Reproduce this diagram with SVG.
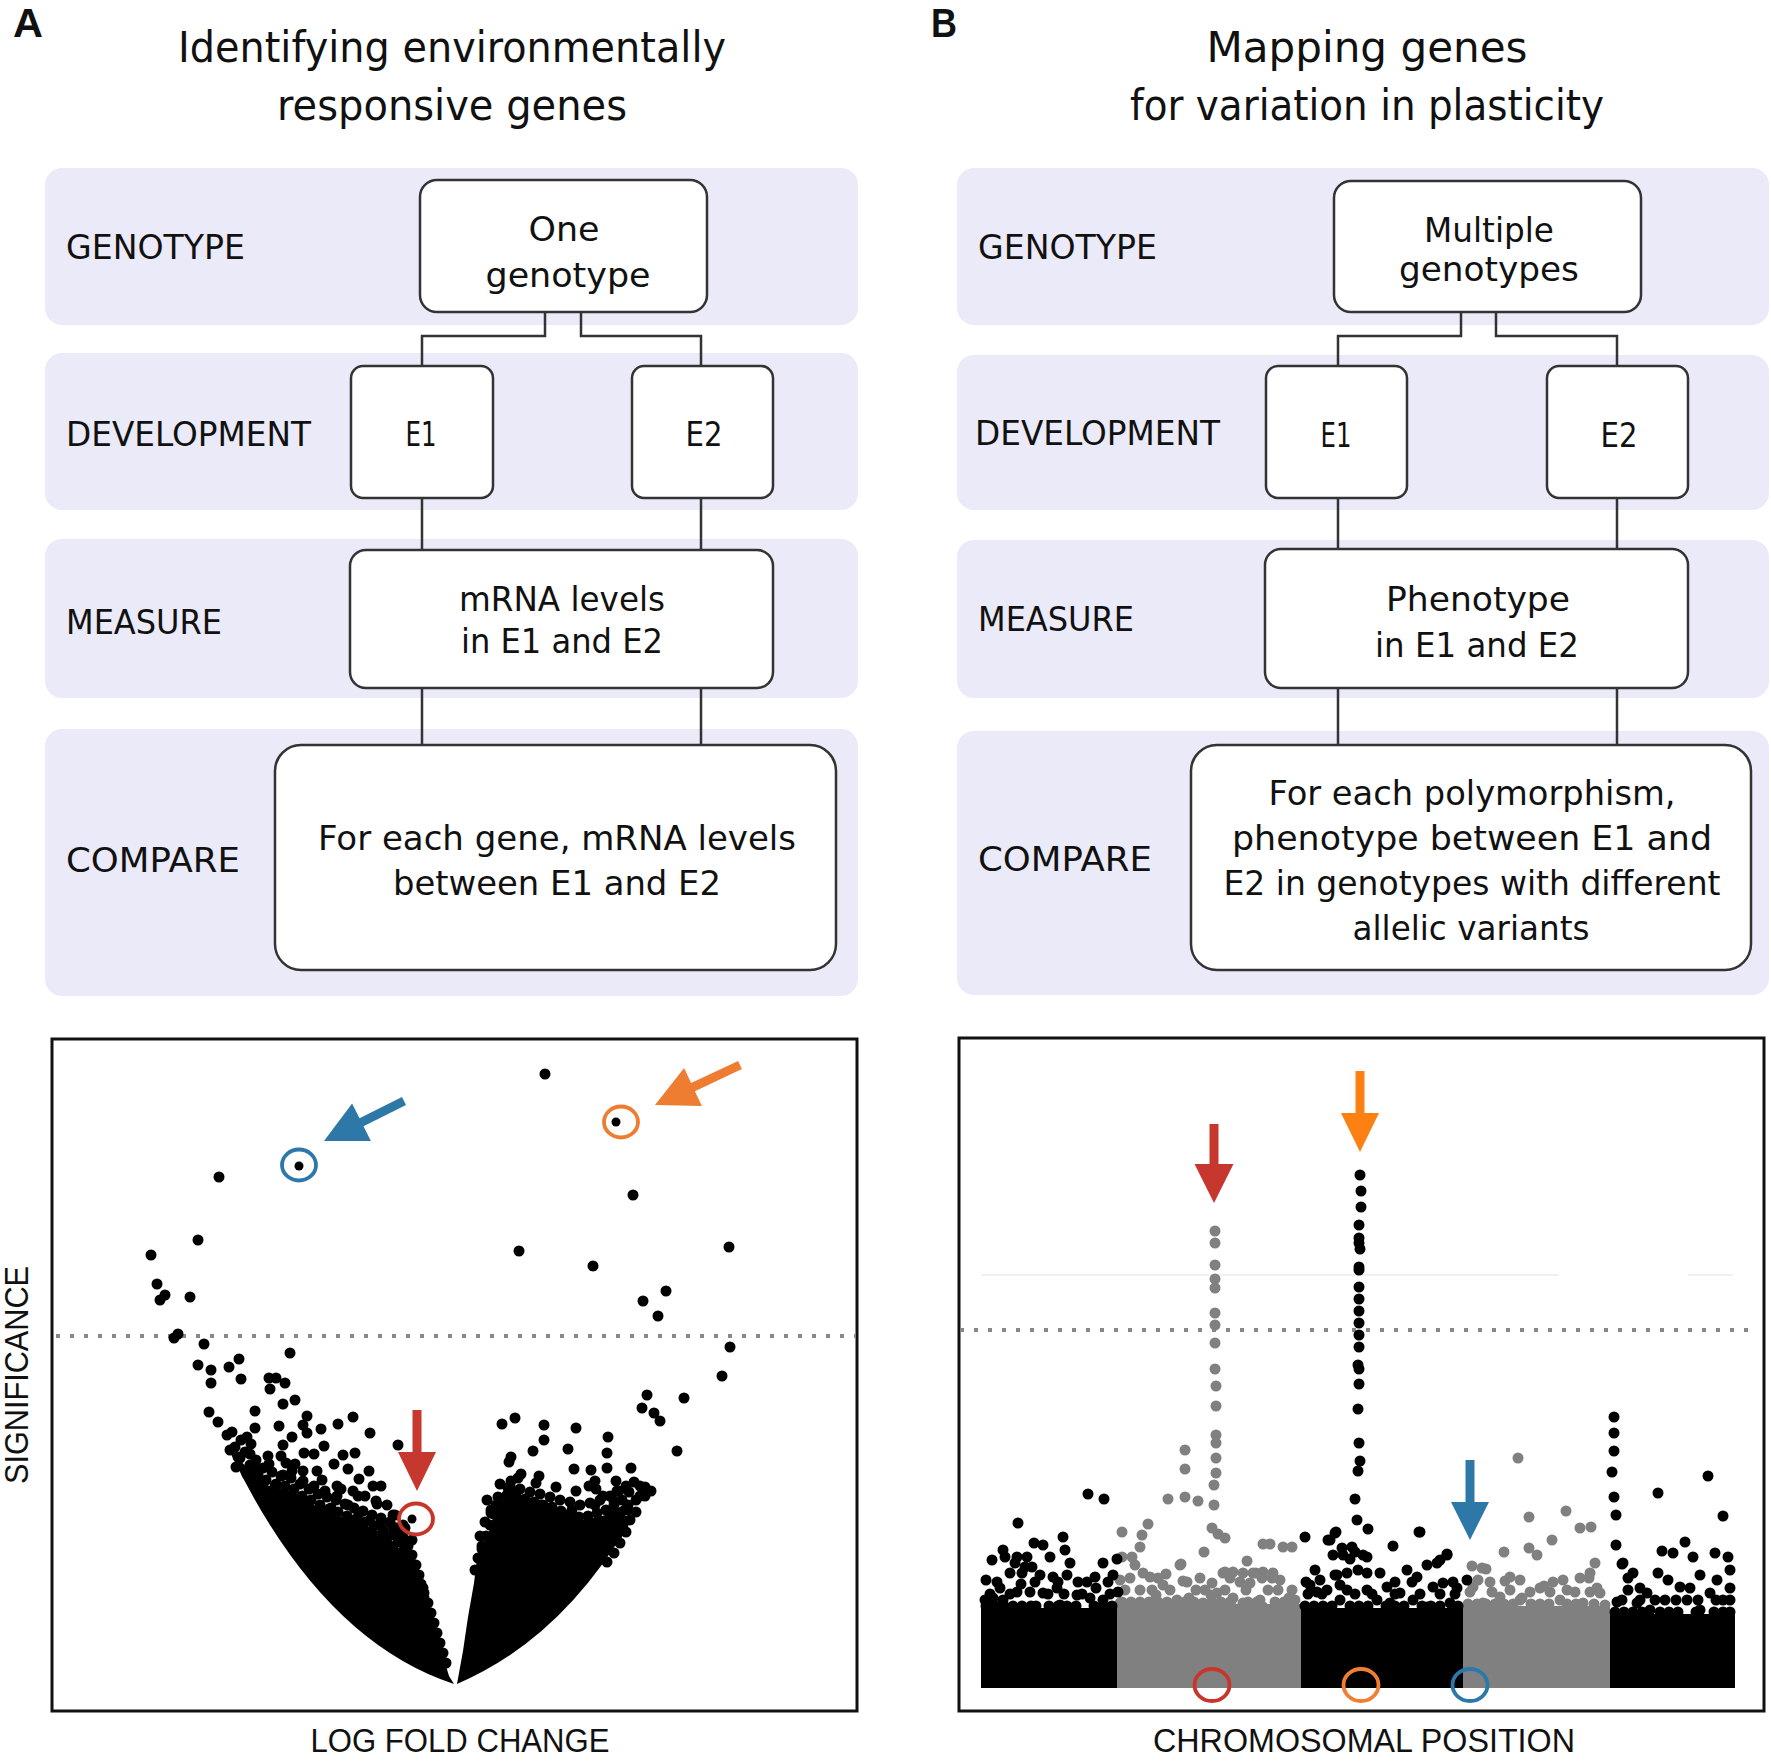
<svg xmlns="http://www.w3.org/2000/svg" width="1771" height="1762" viewBox="0 0 1771 1762">
<style>
.band{fill:#eaeaf8}
.box{fill:#fff;stroke:#333;stroke-width:2.5}
.conn path{fill:none;stroke:#333;stroke-width:2.5}
.fc{font-family:"DejaVu Sans","Liberation Sans",sans-serif;font-size:33px;fill:#111}
.ttl{font-family:"DejaVu Sans","Liberation Sans",sans-serif;font-size:42px;fill:#111;text-anchor:middle}
.mid{text-anchor:middle}
.pl{font-family:"Liberation Sans",Arial,sans-serif;font-size:34px;fill:#111}
.letter{font-family:"Liberation Sans",Arial,sans-serif;font-size:40px;font-weight:bold;fill:#111}
.frame{fill:none;stroke:#111;stroke-width:3}
.dotted{stroke:#888;stroke-width:4;stroke-dasharray:4 10}
.k circle{fill:#000}
.gr circle{fill:#808080}
.ring{fill:none;stroke-width:3.8}
</style>

<!-- Panel letters and titles -->
<text class="letter" x="13" y="37" textLength="30" lengthAdjust="spacingAndGlyphs">A</text>
<text class="letter" x="931" y="37" textLength="26" lengthAdjust="spacingAndGlyphs">B</text>
<text class="ttl" x="452" y="62" textLength="548" lengthAdjust="spacingAndGlyphs">Identifying environmentally</text>
<text class="ttl" x="452" y="120" textLength="350" lengthAdjust="spacingAndGlyphs">responsive genes</text>
<text class="ttl" x="1367" y="62" textLength="321" lengthAdjust="spacingAndGlyphs">Mapping genes</text>
<text class="ttl" x="1367" y="120" textLength="474" lengthAdjust="spacingAndGlyphs">for variation in plasticity</text>

<!-- Bands -->
<g id="bandsA">
<rect class="band" x="45" y="168" width="813" height="157" rx="17"/>
<rect class="band" x="45" y="353" width="813" height="157" rx="17"/>
<rect class="band" x="45" y="539" width="813" height="159" rx="17"/>
<rect class="band" x="45" y="729" width="813" height="267" rx="17"/>
</g>
<g id="bandsB">
<rect class="band" x="957" y="168" width="812" height="157" rx="17"/>
<rect class="band" x="957" y="355" width="812" height="155" rx="17"/>
<rect class="band" x="957" y="540" width="812" height="158" rx="17"/>
<rect class="band" x="957" y="731" width="812" height="264" rx="17"/>
</g>

<!-- Row labels -->
<g id="labelsA" class="fc">
<text x="66" y="259" textLength="179" lengthAdjust="spacingAndGlyphs">GENOTYPE</text>
<text x="66" y="446" textLength="245" lengthAdjust="spacingAndGlyphs">DEVELOPMENT</text>
<text x="66" y="634" textLength="156" lengthAdjust="spacingAndGlyphs">MEASURE</text>
<text x="66" y="872" textLength="174" lengthAdjust="spacingAndGlyphs">COMPARE</text>
</g>
<g id="labelsB" class="fc">
<text x="978" y="259" textLength="179" lengthAdjust="spacingAndGlyphs">GENOTYPE</text>
<text x="975" y="445" textLength="245" lengthAdjust="spacingAndGlyphs">DEVELOPMENT</text>
<text x="978" y="631" textLength="156" lengthAdjust="spacingAndGlyphs">MEASURE</text>
<text x="978" y="871" textLength="174" lengthAdjust="spacingAndGlyphs">COMPARE</text>
</g>

<!-- Connectors -->
<g id="connectors" class="conn">
<path d="M545,312 V336 H422 V366"/>
<path d="M581,312 V336 H701 V366"/>
<path d="M422,498 V550"/>
<path d="M701,498 V550"/>
<path d="M422,688 V745"/>
<path d="M701,688 V745"/>
<path d="M1461,312 V336 H1338 V366"/>
<path d="M1496,312 V336 H1617 V366"/>
<path d="M1338,498 V549"/>
<path d="M1617,498 V549"/>
<path d="M1338,688 V745"/>
<path d="M1617,688 V745"/>
</g>

<!-- Nodes panel A -->
<g id="nodeA-genotype">
<rect class="box" x="420" y="180" width="287" height="132" rx="17"/>
<text class="fc mid" x="564" y="241" textLength="71" lengthAdjust="spacingAndGlyphs">One</text>
<text class="fc mid" x="568" y="287" textLength="165" lengthAdjust="spacingAndGlyphs">genotype</text>
</g>
<g id="nodeA-E1">
<rect class="box" x="351" y="366" width="142" height="132" rx="12"/>
<text class="fc mid" x="421" y="446" textLength="31" lengthAdjust="spacingAndGlyphs">E1</text>
</g>
<g id="nodeA-E2">
<rect class="box" x="632" y="366" width="141" height="132" rx="12"/>
<text class="fc mid" x="704" y="446" textLength="37" lengthAdjust="spacingAndGlyphs">E2</text>
</g>
<g id="nodeA-measure">
<rect class="box" x="350" y="550" width="423" height="138" rx="16"/>
<text class="fc mid" x="562" y="611" textLength="206" lengthAdjust="spacingAndGlyphs">mRNA levels</text>
<text class="fc mid" x="562" y="653" textLength="202" lengthAdjust="spacingAndGlyphs">in E1 and E2</text>
</g>
<g id="nodeA-compare">
<rect class="box" x="275" y="745" width="561" height="225" rx="26"/>
<text class="fc mid" x="557" y="850" textLength="478" lengthAdjust="spacingAndGlyphs">For each gene, mRNA levels</text>
<text class="fc mid" x="557" y="895" textLength="328" lengthAdjust="spacingAndGlyphs">between E1 and E2</text>
</g>

<!-- Nodes panel B -->
<g id="nodeB-genotype">
<rect class="box" x="1334" y="181" width="307" height="131" rx="17"/>
<text class="fc mid" x="1489" y="242" textLength="130" lengthAdjust="spacingAndGlyphs">Multiple</text>
<text class="fc mid" x="1489" y="281" textLength="180" lengthAdjust="spacingAndGlyphs">genotypes</text>
</g>
<g id="nodeB-E1">
<rect class="box" x="1266" y="366" width="141" height="132" rx="12"/>
<text class="fc mid" x="1336" y="447" textLength="31" lengthAdjust="spacingAndGlyphs">E1</text>
</g>
<g id="nodeB-E2">
<rect class="box" x="1547" y="366" width="141" height="132" rx="12"/>
<text class="fc mid" x="1619" y="447" textLength="37" lengthAdjust="spacingAndGlyphs">E2</text>
</g>
<g id="nodeB-measure">
<rect class="box" x="1265" y="549" width="423" height="139" rx="16"/>
<text class="fc mid" x="1478" y="611" textLength="184" lengthAdjust="spacingAndGlyphs">Phenotype</text>
<text class="fc mid" x="1477" y="657" textLength="204" lengthAdjust="spacingAndGlyphs">in E1 and E2</text>
</g>
<g id="nodeB-compare">
<rect class="box" x="1191" y="745" width="560" height="225" rx="26"/>
<text class="fc mid" x="1472" y="805" textLength="407" lengthAdjust="spacingAndGlyphs">For each polymorphism,</text>
<text class="fc mid" x="1472" y="850" textLength="480" lengthAdjust="spacingAndGlyphs">phenotype between E1 and</text>
<text class="fc mid" x="1472" y="895" textLength="497" lengthAdjust="spacingAndGlyphs">E2 in genotypes with different</text>
<text class="fc mid" x="1471" y="940" textLength="237" lengthAdjust="spacingAndGlyphs">allelic variants</text>
</g>

<!-- ===== Volcano plot (A) ===== -->
<g id="volcano">
<rect class="frame" x="52" y="1039" width="805" height="672"/>
<line class="dotted" x1="56" y1="1336" x2="855" y2="1336"/>
<path fill="#000" d="M454,1684 Q320,1640 230,1452 L247,1467 L269,1486 L292,1491 L314,1505 L337,1515 L365,1525 L387,1535 L404,1554 L415,1573 L426,1598 L435,1627 L443,1656 L449,1676 Z"/>
<path fill="#000" d="M457,1684 L463,1651 L468,1617 L474,1583 L477,1559 L488,1535 L494,1515 L505,1496 L527,1501 L555,1510 L583,1520 L606,1515 L623,1505 L628,1525 Q560,1640 457,1684 Z"/>
<g class="k">
<circle cx="545" cy="1074" r="5.5"/><circle cx="616" cy="1122" r="4.5"/><circle cx="299" cy="1166" r="4.5"/><circle cx="219" cy="1177" r="5.5"/><circle cx="633" cy="1195" r="5.5"/><circle cx="198" cy="1240" r="5.5"/><circle cx="151" cy="1255" r="5.5"/><circle cx="519" cy="1251" r="5.5"/><circle cx="593" cy="1266" r="5.5"/><circle cx="729" cy="1247" r="5.5"/><circle cx="157" cy="1284" r="5.5"/><circle cx="165" cy="1295" r="5.5"/><circle cx="160" cy="1300" r="5.5"/><circle cx="190" cy="1297" r="5.5"/><circle cx="666" cy="1291" r="5.5"/><circle cx="643" cy="1301" r="5.5"/><circle cx="658" cy="1316" r="5.5"/><circle cx="178" cy="1334" r="5.5"/><circle cx="174" cy="1338" r="5.5"/><circle cx="204" cy="1344" r="5.5"/><circle cx="290" cy="1353" r="5.5"/><circle cx="730" cy="1347" r="5.5"/><circle cx="198" cy="1365" r="5.5"/><circle cx="211" cy="1370" r="5.5"/><circle cx="239" cy="1359" r="5.5"/><circle cx="229" cy="1367" r="5.5"/><circle cx="211" cy="1383" r="5.5"/><circle cx="241" cy="1379" r="5.5"/><circle cx="269" cy="1378" r="5.5"/><circle cx="276" cy="1378" r="5.5"/><circle cx="270" cy="1389" r="5.5"/><circle cx="285" cy="1383" r="5.5"/><circle cx="295" cy="1400" r="5.5"/><circle cx="283" cy="1404" r="5.5"/><circle cx="722" cy="1376" r="5.5"/><circle cx="647" cy="1395" r="5.5"/><circle cx="684" cy="1398" r="5.5"/><circle cx="642" cy="1408" r="5.5"/><circle cx="654" cy="1413" r="5.5"/><circle cx="660" cy="1421" r="5.5"/><circle cx="677" cy="1451" r="5.5"/><circle cx="209" cy="1412" r="5.5"/><circle cx="218" cy="1422" r="5.5"/><circle cx="255" cy="1411" r="5.5"/><circle cx="307" cy="1416" r="5.5"/><circle cx="338" cy="1424" r="5.5"/><circle cx="353" cy="1417" r="5.5"/><circle cx="279" cy="1426" r="5.5"/><circle cx="303" cy="1425" r="5.5"/><circle cx="321" cy="1429" r="5.5"/><circle cx="307" cy="1433" r="5.5"/><circle cx="502" cy="1424" r="5.5"/><circle cx="515" cy="1418" r="5.5"/><circle cx="544" cy="1425" r="5.5"/><circle cx="576" cy="1428" r="5.5"/><circle cx="608" cy="1437" r="5.5"/><circle cx="544" cy="1440" r="5.5"/><circle cx="398" cy="1445" r="5.5"/><circle cx="370" cy="1433" r="5.5"/><circle cx="324" cy="1446" r="5.5"/><circle cx="304" cy="1453" r="5.5"/><circle cx="343" cy="1455" r="5.5"/><circle cx="355" cy="1453" r="5.5"/><circle cx="281" cy="1456" r="5.5"/><circle cx="533" cy="1451" r="5.5"/><circle cx="568" cy="1449" r="5.5"/><circle cx="607" cy="1453" r="5.5"/><circle cx="511" cy="1457" r="5.5"/><circle cx="509" cy="1462" r="5.5"/><circle cx="348" cy="1469" r="5.5"/><circle cx="369" cy="1471" r="5.5"/><circle cx="574" cy="1469" r="5.5"/><circle cx="591" cy="1470" r="5.5"/><circle cx="607" cy="1468" r="5.5"/><circle cx="631" cy="1468" r="5.5"/><circle cx="521" cy="1474" r="5.5"/><circle cx="539" cy="1476" r="5.5"/><circle cx="412" cy="1519" r="4.5"/>
<circle cx="230" cy="1450" r="5.5"/><circle cx="238" cy="1457" r="5.5"/><circle cx="250" cy="1454" r="5.5"/><circle cx="236" cy="1467" r="5.5"/><circle cx="247" cy="1474" r="5.5"/><circle cx="255" cy="1469" r="5.5"/><circle cx="264" cy="1481" r="5.5"/><circle cx="275" cy="1486" r="5.5"/><circle cx="258" cy="1491" r="5.5"/><circle cx="281" cy="1476" r="5.5"/><circle cx="292" cy="1471" r="5.5"/><circle cx="303" cy="1481" r="5.5"/><circle cx="314" cy="1486" r="5.5"/><circle cx="325" cy="1491" r="5.5"/><circle cx="337" cy="1496" r="5.5"/><circle cx="306" cy="1501" r="5.5"/><circle cx="331" cy="1508" r="5.5"/><circle cx="348" cy="1505" r="5.5"/><circle cx="359" cy="1513" r="5.5"/><circle cx="370" cy="1520" r="5.5"/><circle cx="381" cy="1522" r="5.5"/><circle cx="393" cy="1527" r="5.5"/><circle cx="398" cy="1535" r="5.5"/><circle cx="365" cy="1496" r="5.5"/><circle cx="337" cy="1486" r="5.5"/><circle cx="353" cy="1491" r="5.5"/><circle cx="295" cy="1464" r="5.5"/><circle cx="317" cy="1471" r="5.5"/><circle cx="269" cy="1464" r="5.5"/><circle cx="381" cy="1486" r="5.5"/><circle cx="376" cy="1501" r="5.5"/><circle cx="393" cy="1515" r="5.5"/><circle cx="404" cy="1544" r="5.5"/><circle cx="410" cy="1559" r="5.5"/><circle cx="418" cy="1578" r="5.5"/><circle cx="424" cy="1598" r="5.5"/><circle cx="415" cy="1588" r="5.5"/><circle cx="247" cy="1437" r="5.5"/><circle cx="255" cy="1428" r="5.5"/><circle cx="241" cy="1440" r="5.5"/><circle cx="227" cy="1435" r="5.5"/><circle cx="292" cy="1437" r="5.5"/><circle cx="283" cy="1445" r="5.5"/><circle cx="314" cy="1454" r="5.5"/><circle cx="334" cy="1464" r="5.5"/><circle cx="359" cy="1479" r="5.5"/><circle cx="373" cy="1486" r="5.5"/><circle cx="387" cy="1505" r="5.5"/><circle cx="403" cy="1525" r="5.5"/><circle cx="426" cy="1612" r="5.5"/>
<circle cx="240" cy="1458" r="5.5"/><circle cx="250" cy="1465" r="5.5"/><circle cx="258" cy="1474" r="5.5"/><circle cx="266" cy="1480" r="5.5"/><circle cx="276" cy="1484" r="5.5"/><circle cx="285" cy="1486" r="5.5"/><circle cx="294" cy="1489" r="5.5"/><circle cx="302" cy="1496" r="5.5"/><circle cx="311" cy="1500" r="5.5"/><circle cx="320" cy="1505" r="5.5"/><circle cx="329" cy="1509" r="5.5"/><circle cx="338" cy="1512" r="5.5"/><circle cx="347" cy="1516" r="5.5"/><circle cx="356" cy="1519" r="5.5"/><circle cx="365" cy="1522" r="5.5"/><circle cx="374" cy="1526" r="5.5"/><circle cx="383" cy="1530" r="5.5"/><circle cx="391" cy="1535" r="5.5"/><circle cx="398" cy="1542" r="5.5"/><circle cx="404" cy="1550" r="5.5"/><circle cx="409" cy="1558" r="5.5"/><circle cx="413" cy="1566" r="5.5"/><circle cx="417" cy="1575" r="5.5"/><circle cx="421" cy="1584" r="5.5"/><circle cx="424" cy="1593" r="5.5"/><circle cx="428" cy="1603" r="5.5"/><circle cx="431" cy="1613" r="5.5"/><circle cx="434" cy="1623" r="5.5"/><circle cx="437" cy="1633" r="5.5"/><circle cx="440" cy="1643" r="5.5"/><circle cx="443" cy="1653" r="5.5"/><circle cx="446" cy="1663" r="5.5"/>
<circle cx="235" cy="1447" r="5.5"/><circle cx="245" cy="1452" r="5.5"/><circle cx="256" cy="1460" r="5.5"/><circle cx="263" cy="1468" r="5.5"/><circle cx="272" cy="1472" r="5.5"/><circle cx="283" cy="1475" r="5.5"/><circle cx="291" cy="1478" r="5.5"/><circle cx="300" cy="1484" r="5.5"/><circle cx="309" cy="1489" r="5.5"/><circle cx="318" cy="1494" r="5.5"/><circle cx="327" cy="1497" r="5.5"/><circle cx="336" cy="1500" r="5.5"/><circle cx="345" cy="1504" r="5.5"/><circle cx="354" cy="1508" r="5.5"/><circle cx="363" cy="1511" r="5.5"/><circle cx="372" cy="1515" r="5.5"/><circle cx="381" cy="1518" r="5.5"/><circle cx="390" cy="1522" r="5.5"/><circle cx="397" cy="1528" r="5.5"/><circle cx="403" cy="1537" r="5.5"/><circle cx="408" cy="1546" r="5.5"/><circle cx="412" cy="1555" r="5.5"/><circle cx="416" cy="1565" r="5.5"/><circle cx="419" cy="1575" r="5.5"/><circle cx="423" cy="1588" r="5.5"/>
<circle cx="232" cy="1432" r="5.5"/><circle cx="251" cy="1444" r="5.5"/><circle cx="268" cy="1456" r="5.5"/><circle cx="286" cy="1463" r="5.5"/><circle cx="303" cy="1471" r="5.5"/><circle cx="322" cy="1480" r="5.5"/><circle cx="341" cy="1489" r="5.5"/><circle cx="358" cy="1496" r="5.5"/><circle cx="377" cy="1504" r="5.5"/><circle cx="395" cy="1515" r="5.5"/><circle cx="405" cy="1528" r="5.5"/><circle cx="412" cy="1540" r="5.5"/>
<circle cx="491" cy="1513" r="5.5"/><circle cx="496" cy="1505" r="5.5"/><circle cx="508" cy="1488" r="5.5"/><circle cx="513" cy="1493" r="5.5"/><circle cx="522" cy="1505" r="5.5"/><circle cx="533" cy="1510" r="5.5"/><circle cx="541" cy="1505" r="5.5"/><circle cx="547" cy="1515" r="5.5"/><circle cx="555" cy="1520" r="5.5"/><circle cx="564" cy="1527" r="5.5"/><circle cx="572" cy="1510" r="5.5"/><circle cx="583" cy="1530" r="5.5"/><circle cx="595" cy="1505" r="5.5"/><circle cx="603" cy="1496" r="5.5"/><circle cx="614" cy="1501" r="5.5"/><circle cx="617" cy="1491" r="5.5"/><circle cx="626" cy="1486" r="5.5"/><circle cx="640" cy="1486" r="5.5"/><circle cx="645" cy="1496" r="5.5"/><circle cx="651" cy="1491" r="5.5"/><circle cx="628" cy="1505" r="5.5"/><circle cx="611" cy="1515" r="5.5"/><circle cx="600" cy="1525" r="5.5"/><circle cx="589" cy="1539" r="5.5"/><circle cx="578" cy="1544" r="5.5"/><circle cx="567" cy="1554" r="5.5"/><circle cx="553" cy="1549" r="5.5"/><circle cx="539" cy="1539" r="5.5"/><circle cx="527" cy="1520" r="5.5"/><circle cx="516" cy="1515" r="5.5"/><circle cx="505" cy="1510" r="5.5"/><circle cx="499" cy="1522" r="5.5"/><circle cx="482" cy="1549" r="5.5"/><circle cx="480" cy="1569" r="5.5"/><circle cx="623" cy="1525" r="5.5"/><circle cx="617" cy="1535" r="5.5"/><circle cx="511" cy="1481" r="5.5"/><circle cx="589" cy="1486" r="5.5"/><circle cx="595" cy="1481" r="5.5"/><circle cx="640" cy="1496" r="5.5"/>
<circle cx="475" cy="1570" r="5.5"/><circle cx="478" cy="1558" r="5.5"/><circle cx="482" cy="1546" r="5.5"/><circle cx="486" cy="1536" r="5.5"/><circle cx="490" cy="1525" r="5.5"/><circle cx="494" cy="1514" r="5.5"/><circle cx="500" cy="1504" r="5.5"/><circle cx="507" cy="1495" r="5.5"/><circle cx="516" cy="1496" r="5.5"/><circle cx="525" cy="1499" r="5.5"/><circle cx="534" cy="1502" r="5.5"/><circle cx="543" cy="1505" r="5.5"/><circle cx="552" cy="1507" r="5.5"/><circle cx="561" cy="1511" r="5.5"/><circle cx="570" cy="1514" r="5.5"/><circle cx="579" cy="1517" r="5.5"/><circle cx="588" cy="1516" r="5.5"/><circle cx="597" cy="1513" r="5.5"/><circle cx="606" cy="1510" r="5.5"/><circle cx="614" cy="1505" r="5.5"/><circle cx="622" cy="1500" r="5.5"/><circle cx="628" cy="1510" r="5.5"/><circle cx="630" cy="1520" r="5.5"/><circle cx="626" cy="1532" r="5.5"/><circle cx="620" cy="1543" r="5.5"/><circle cx="614" cy="1553" r="5.5"/><circle cx="607" cy="1562" r="5.5"/>
<circle cx="480" cy="1536" r="5.5"/><circle cx="485" cy="1522" r="5.5"/><circle cx="491" cy="1510" r="5.5"/><circle cx="498" cy="1497" r="5.5"/><circle cx="510" cy="1486" r="5.5"/><circle cx="520" cy="1489" r="5.5"/><circle cx="530" cy="1492" r="5.5"/><circle cx="540" cy="1494" r="5.5"/><circle cx="550" cy="1497" r="5.5"/><circle cx="560" cy="1500" r="5.5"/><circle cx="570" cy="1502" r="5.5"/><circle cx="580" cy="1505" r="5.5"/><circle cx="590" cy="1503" r="5.5"/><circle cx="600" cy="1500" r="5.5"/><circle cx="610" cy="1496" r="5.5"/><circle cx="619" cy="1491" r="5.5"/><circle cx="629" cy="1492" r="5.5"/><circle cx="636" cy="1500" r="5.5"/><circle cx="636" cy="1512" r="5.5"/>
<circle cx="487" cy="1500" r="5.5"/><circle cx="500" cy="1484" r="5.5"/><circle cx="518" cy="1478" r="5.5"/><circle cx="536" cy="1483" r="5.5"/><circle cx="556" cy="1487" r="5.5"/><circle cx="576" cy="1491" r="5.5"/><circle cx="596" cy="1489" r="5.5"/><circle cx="616" cy="1481" r="5.5"/><circle cx="634" cy="1482" r="5.5"/><circle cx="645" cy="1487" r="5.5"/>
</g>
<ellipse class="ring" stroke="#2d78aa" cx="299" cy="1165" rx="17" ry="15.5"/>
<ellipse class="ring" stroke="#ee7d31" cx="621" cy="1122" rx="17" ry="15.5"/>
<ellipse class="ring" stroke="#c8352b" cx="416" cy="1519" rx="17" ry="15.5"/>
<polygon fill="#2e78a8" points="402,1097 359.5,1118.2 352.1,1103.4 324,1141 370.9,1141 363.5,1126.2 406,1105"/>
<polygon fill="#ee7d31" points="738.1,1060.9 691.1,1083 684.1,1068.1 655,1105 701.9,1106.1 694.9,1091.2 741.9,1069.1"/>
<polygon fill="#c6372d" points="412.5,1410 412.5,1452 398,1452 417,1491 436,1452 421.5,1452 421.5,1410"/>
<text class="pl" transform="translate(28,1375) rotate(-90)" text-anchor="middle" textLength="218" lengthAdjust="spacingAndGlyphs">SIGNIFICANCE</text>
<text class="pl" x="460" y="1752" text-anchor="middle" textLength="299" lengthAdjust="spacingAndGlyphs">LOG FOLD CHANGE</text>
</g>

<!-- ===== Manhattan plot (B) ===== -->
<g id="manhattan">
<rect class="frame" x="959" y="1038" width="805" height="673"/>
<line stroke="#ececec" stroke-width="1.5" x1="981" y1="1275" x2="1559" y2="1275"/>
<line stroke="#ececec" stroke-width="1.5" x1="1688" y1="1275" x2="1733" y2="1275"/>
<line class="dotted" x1="960" y1="1330" x2="1748" y2="1330"/>
<rect fill="#000" x="981" y="1608" width="136" height="80"/>
<rect fill="#808080" x="1117" y="1604" width="184" height="84"/>
<rect fill="#000" x="1301" y="1608" width="162" height="80"/>
<rect fill="#808080" x="1463" y="1606" width="147" height="82"/>
<rect fill="#000" x="1610" y="1614" width="125" height="74"/>
<g class="gr">
<circle cx="1215" cy="1231" r="5.5"/><circle cx="1215" cy="1243" r="5.5"/><circle cx="1215" cy="1265" r="5.5"/><circle cx="1215" cy="1279" r="5.5"/><circle cx="1215" cy="1288" r="5.5"/><circle cx="1215" cy="1313" r="5.5"/><circle cx="1215" cy="1325" r="5.5"/><circle cx="1215" cy="1343" r="5.5"/><circle cx="1215" cy="1369" r="5.5"/><circle cx="1216" cy="1386" r="5.5"/><circle cx="1216" cy="1406" r="5.5"/><circle cx="1216" cy="1435" r="5.5"/><circle cx="1216" cy="1443" r="5.5"/><circle cx="1216" cy="1458" r="5.5"/><circle cx="1216" cy="1473" r="5.5"/><circle cx="1214" cy="1485" r="5.5"/><circle cx="1214" cy="1505" r="5.5"/><circle cx="1212" cy="1528" r="5.5"/><circle cx="1218" cy="1534" r="5.5"/><circle cx="1225" cy="1538" r="5.5"/>
<circle cx="1185" cy="1450" r="5.5"/><circle cx="1185" cy="1469" r="5.5"/><circle cx="1168" cy="1499" r="5.5"/><circle cx="1185" cy="1497" r="5.5"/><circle cx="1198" cy="1501" r="5.5"/><circle cx="1204" cy="1552" r="5.5"/><circle cx="1148" cy="1524" r="5.5"/><circle cx="1142" cy="1535" r="5.5"/><circle cx="1122" cy="1532" r="5.5"/><circle cx="1140" cy="1547" r="5.5"/><circle cx="1122" cy="1557" r="5.5"/><circle cx="1132" cy="1557" r="5.5"/><circle cx="1135" cy="1565" r="5.5"/><circle cx="1143" cy="1573" r="5.5"/><circle cx="1150" cy="1577" r="5.5"/><circle cx="1120" cy="1580" r="5.5"/><circle cx="1180" cy="1565" r="5.5"/><circle cx="1187" cy="1582" r="5.5"/><circle cx="1166" cy="1574" r="5.5"/><circle cx="1163" cy="1585" r="5.5"/><circle cx="1247" cy="1561" r="5.5"/><circle cx="1263" cy="1544" r="5.5"/><circle cx="1270" cy="1544" r="5.5"/><circle cx="1283" cy="1547" r="5.5"/><circle cx="1292" cy="1547" r="5.5"/><circle cx="1223" cy="1573" r="5.5"/><circle cx="1233" cy="1572" r="5.5"/><circle cx="1243" cy="1573" r="5.5"/><circle cx="1253" cy="1573" r="5.5"/><circle cx="1263" cy="1572" r="5.5"/><circle cx="1273" cy="1573" r="5.5"/><circle cx="1240" cy="1582" r="5.5"/><circle cx="1250" cy="1583" r="5.5"/><circle cx="1212" cy="1583" r="5.5"/><circle cx="1217" cy="1593" r="5.5"/><circle cx="1280" cy="1580" r="5.5"/><circle cx="1292" cy="1590" r="5.5"/><circle cx="1295" cy="1600" r="5.5"/><circle cx="1287" cy="1603" r="5.5"/><circle cx="1203" cy="1603" r="5.5"/><circle cx="1177" cy="1600" r="5.5"/><circle cx="1157" cy="1603" r="5.5"/><circle cx="1137" cy="1608" r="5.5"/><circle cx="1120" cy="1603" r="5.5"/><circle cx="1243" cy="1603" r="5.5"/><circle cx="1260" cy="1600" r="5.5"/><circle cx="1263" cy="1607" r="5.5"/><circle cx="1233" cy="1608" r="5.5"/><circle cx="1181" cy="1564" r="5.5"/><circle cx="1183" cy="1581" r="5.5"/><circle cx="1225" cy="1572" r="5.5"/><circle cx="1256" cy="1573" r="5.5"/><circle cx="1272" cy="1578" r="5.5"/><circle cx="1289" cy="1598" r="5.5"/><circle cx="1156" cy="1595" r="5.5"/><circle cx="1189" cy="1598" r="5.5"/><circle cx="1211" cy="1595" r="5.5"/><circle cx="1233" cy="1598" r="5.5"/>
<circle cx="1122" cy="1602" r="5.5"/><circle cx="1131" cy="1602" r="5.5"/><circle cx="1140" cy="1602" r="5.5"/><circle cx="1149" cy="1602" r="5.5"/><circle cx="1158" cy="1602" r="5.5"/><circle cx="1167" cy="1602" r="5.5"/><circle cx="1176" cy="1602" r="5.5"/><circle cx="1185" cy="1602" r="5.5"/><circle cx="1194" cy="1602" r="5.5"/><circle cx="1212" cy="1602" r="5.5"/><circle cx="1221" cy="1602" r="5.5"/><circle cx="1230" cy="1602" r="5.5"/><circle cx="1248" cy="1602" r="5.5"/><circle cx="1257" cy="1602" r="5.5"/><circle cx="1275" cy="1602" r="5.5"/><circle cx="1284" cy="1602" r="5.5"/><circle cx="1125" cy="1590" r="5.5"/><circle cx="1140" cy="1590" r="5.5"/><circle cx="1152" cy="1590" r="5.5"/><circle cx="1170" cy="1590" r="5.5"/><circle cx="1196" cy="1590" r="5.5"/><circle cx="1205" cy="1590" r="5.5"/><circle cx="1225" cy="1590" r="5.5"/><circle cx="1246" cy="1590" r="5.5"/><circle cx="1268" cy="1590" r="5.5"/><circle cx="1278" cy="1590" r="5.5"/><circle cx="1130" cy="1578" r="5.5"/><circle cx="1158" cy="1578" r="5.5"/><circle cx="1200" cy="1578" r="5.5"/><circle cx="1230" cy="1578" r="5.5"/><circle cx="1262" cy="1578" r="5.5"/>
<circle cx="1518" cy="1458" r="5.5"/><circle cx="1529" cy="1517" r="5.5"/><circle cx="1566" cy="1511" r="5.5"/><circle cx="1580" cy="1528" r="5.5"/><circle cx="1591" cy="1527" r="5.5"/><circle cx="1552" cy="1540" r="5.5"/><circle cx="1504" cy="1552" r="5.5"/><circle cx="1529" cy="1548" r="5.5"/><circle cx="1537" cy="1555" r="5.5"/><circle cx="1472" cy="1566" r="5.5"/><circle cx="1482" cy="1568" r="5.5"/><circle cx="1595" cy="1563" r="5.5"/><circle cx="1473" cy="1587" r="5.5"/><circle cx="1490" cy="1582" r="5.5"/><circle cx="1510" cy="1577" r="5.5"/><circle cx="1510" cy="1590" r="5.5"/><circle cx="1540" cy="1588" r="5.5"/><circle cx="1553" cy="1582" r="5.5"/><circle cx="1567" cy="1590" r="5.5"/><circle cx="1580" cy="1578" r="5.5"/><circle cx="1590" cy="1573" r="5.5"/><circle cx="1600" cy="1593" r="5.5"/><circle cx="1520" cy="1600" r="5.5"/><circle cx="1500" cy="1597" r="5.5"/><circle cx="1560" cy="1600" r="5.5"/><circle cx="1533" cy="1607" r="5.5"/><circle cx="1583" cy="1603" r="5.5"/><circle cx="1486" cy="1569" r="5.5"/><circle cx="1505" cy="1581" r="5.5"/><circle cx="1544" cy="1586" r="5.5"/><circle cx="1522" cy="1598" r="5.5"/><circle cx="1483" cy="1603" r="5.5"/><circle cx="1597" cy="1588" r="5.5"/><circle cx="1605" cy="1605" r="5.5"/><circle cx="1589" cy="1578" r="5.5"/>
<circle cx="1468" cy="1604" r="5.5"/><circle cx="1477" cy="1604" r="5.5"/><circle cx="1486" cy="1604" r="5.5"/><circle cx="1495" cy="1604" r="5.5"/><circle cx="1504" cy="1604" r="5.5"/><circle cx="1513" cy="1604" r="5.5"/><circle cx="1531" cy="1604" r="5.5"/><circle cx="1540" cy="1604" r="5.5"/><circle cx="1549" cy="1604" r="5.5"/><circle cx="1567" cy="1604" r="5.5"/><circle cx="1576" cy="1604" r="5.5"/><circle cx="1594" cy="1604" r="5.5"/><circle cx="1470" cy="1592" r="5.5"/><circle cx="1492" cy="1592" r="5.5"/><circle cx="1530" cy="1592" r="5.5"/><circle cx="1550" cy="1592" r="5.5"/><circle cx="1575" cy="1592" r="5.5"/><circle cx="1590" cy="1592" r="5.5"/><circle cx="1478" cy="1580" r="5.5"/><circle cx="1520" cy="1580" r="5.5"/><circle cx="1563" cy="1580" r="5.5"/>
</g>
<g class="k">
<circle cx="1360" cy="1175" r="5.5"/><circle cx="1361" cy="1191" r="5.5"/><circle cx="1361" cy="1207" r="5.5"/><circle cx="1359" cy="1225" r="5.5"/><circle cx="1359" cy="1238" r="5.5"/><circle cx="1359" cy="1243" r="5.5"/><circle cx="1360" cy="1249" r="5.5"/><circle cx="1359" cy="1267" r="5.5"/><circle cx="1359" cy="1270" r="5.5"/><circle cx="1359" cy="1287" r="5.5"/><circle cx="1359" cy="1299" r="5.5"/><circle cx="1359" cy="1311" r="5.5"/><circle cx="1359" cy="1323" r="5.5"/><circle cx="1359" cy="1335" r="5.5"/><circle cx="1359" cy="1347" r="5.5"/><circle cx="1358" cy="1365" r="5.5"/><circle cx="1359" cy="1369" r="5.5"/><circle cx="1359" cy="1384" r="5.5"/><circle cx="1358" cy="1409" r="5.5"/><circle cx="1359" cy="1443" r="5.5"/><circle cx="1360" cy="1461" r="5.5"/><circle cx="1358" cy="1471" r="5.5"/><circle cx="1355" cy="1499" r="5.5"/><circle cx="1357" cy="1520" r="5.5"/><circle cx="1368" cy="1529" r="5.5"/>
<circle cx="1305" cy="1537" r="5.5"/><circle cx="1330" cy="1540" r="5.5"/><circle cx="1335" cy="1533" r="5.5"/><circle cx="1393" cy="1546" r="5.5"/><circle cx="1420" cy="1532" r="5.5"/><circle cx="1352" cy="1547" r="5.5"/><circle cx="1355" cy="1552" r="5.5"/><circle cx="1363" cy="1555" r="5.5"/><circle cx="1367" cy="1557" r="5.5"/><circle cx="1343" cy="1555" r="5.5"/><circle cx="1350" cy="1559" r="5.5"/><circle cx="1358" cy="1570" r="5.5"/><circle cx="1367" cy="1573" r="5.5"/><circle cx="1335" cy="1575" r="5.5"/><circle cx="1380" cy="1573" r="5.5"/><circle cx="1407" cy="1570" r="5.5"/><circle cx="1417" cy="1577" r="5.5"/><circle cx="1427" cy="1565" r="5.5"/><circle cx="1437" cy="1563" r="5.5"/><circle cx="1447" cy="1555" r="5.5"/><circle cx="1440" cy="1560" r="5.5"/><circle cx="1467" cy="1580" r="5.5"/><circle cx="1457" cy="1588" r="5.5"/><circle cx="1443" cy="1583" r="5.5"/><circle cx="1433" cy="1587" r="5.5"/><circle cx="1310" cy="1585" r="5.5"/><circle cx="1320" cy="1580" r="5.5"/><circle cx="1327" cy="1590" r="5.5"/><circle cx="1347" cy="1590" r="5.5"/><circle cx="1367" cy="1590" r="5.5"/><circle cx="1387" cy="1587" r="5.5"/><circle cx="1400" cy="1593" r="5.5"/><circle cx="1413" cy="1600" r="5.5"/><circle cx="1340" cy="1600" r="5.5"/><circle cx="1377" cy="1600" r="5.5"/><circle cx="1390" cy="1603" r="5.5"/><circle cx="1450" cy="1603" r="5.5"/><circle cx="1427" cy="1607" r="5.5"/><circle cx="1328" cy="1540" r="5.5"/><circle cx="1336" cy="1532" r="5.5"/><circle cx="1333" cy="1555" r="5.5"/><circle cx="1342" cy="1548" r="5.5"/><circle cx="1337" cy="1575" r="5.5"/><circle cx="1347" cy="1573" r="5.5"/><circle cx="1317" cy="1592" r="5.5"/><circle cx="1340" cy="1585" r="5.5"/><circle cx="1447" cy="1554" r="5.5"/><circle cx="1419" cy="1532" r="5.5"/>
<circle cx="1305" cy="1606" r="5.5"/><circle cx="1314" cy="1606" r="5.5"/><circle cx="1323" cy="1606" r="5.5"/><circle cx="1332" cy="1606" r="5.5"/><circle cx="1350" cy="1606" r="5.5"/><circle cx="1359" cy="1606" r="5.5"/><circle cx="1368" cy="1606" r="5.5"/><circle cx="1386" cy="1606" r="5.5"/><circle cx="1395" cy="1606" r="5.5"/><circle cx="1404" cy="1606" r="5.5"/><circle cx="1422" cy="1606" r="5.5"/><circle cx="1431" cy="1606" r="5.5"/><circle cx="1440" cy="1606" r="5.5"/><circle cx="1458" cy="1606" r="5.5"/><circle cx="1308" cy="1594" r="5.5"/><circle cx="1322" cy="1594" r="5.5"/><circle cx="1355" cy="1594" r="5.5"/><circle cx="1372" cy="1594" r="5.5"/><circle cx="1395" cy="1594" r="5.5"/><circle cx="1420" cy="1594" r="5.5"/><circle cx="1440" cy="1594" r="5.5"/><circle cx="1455" cy="1594" r="5.5"/><circle cx="1306" cy="1582" r="5.5"/><circle cx="1315" cy="1570" r="5.5"/><circle cx="1395" cy="1582" r="5.5"/><circle cx="1412" cy="1582" r="5.5"/><circle cx="1453" cy="1582" r="5.5"/>
<circle cx="1018" cy="1523" r="5.5"/><circle cx="1088" cy="1494" r="5.5"/><circle cx="1104" cy="1499" r="5.5"/><circle cx="1003" cy="1550" r="5.5"/><circle cx="1005" cy="1557" r="5.5"/><circle cx="1017" cy="1557" r="5.5"/><circle cx="1034" cy="1543" r="5.5"/><circle cx="1043" cy="1545" r="5.5"/><circle cx="1063" cy="1537" r="5.5"/><circle cx="1065" cy="1550" r="5.5"/><circle cx="1050" cy="1557" r="5.5"/><circle cx="1027" cy="1557" r="5.5"/><circle cx="1015" cy="1563" r="5.5"/><circle cx="1025" cy="1567" r="5.5"/><circle cx="1032" cy="1567" r="5.5"/><circle cx="1070" cy="1563" r="5.5"/><circle cx="1103" cy="1563" r="5.5"/><circle cx="1117" cy="1559" r="5.5"/><circle cx="1010" cy="1573" r="5.5"/><circle cx="1022" cy="1573" r="5.5"/><circle cx="1040" cy="1575" r="5.5"/><circle cx="1053" cy="1577" r="5.5"/><circle cx="1067" cy="1575" r="5.5"/><circle cx="1078" cy="1582" r="5.5"/><circle cx="1087" cy="1582" r="5.5"/><circle cx="1113" cy="1575" r="5.5"/><circle cx="1118" cy="1592" r="5.5"/><circle cx="993" cy="1598" r="5.5"/><circle cx="1003" cy="1600" r="5.5"/><circle cx="1017" cy="1592" r="5.5"/><circle cx="1030" cy="1592" r="5.5"/><circle cx="1043" cy="1593" r="5.5"/><circle cx="1057" cy="1588" r="5.5"/><circle cx="1077" cy="1595" r="5.5"/><circle cx="1090" cy="1598" r="5.5"/><circle cx="1103" cy="1600" r="5.5"/><circle cx="985" cy="1600" r="5.5"/><circle cx="986" cy="1580" r="5.5"/><circle cx="992" cy="1560" r="5.5"/><circle cx="1060" cy="1605" r="5.5"/><circle cx="1036" cy="1606" r="5.5"/>
<circle cx="986" cy="1606" r="5.5"/><circle cx="995" cy="1606" r="5.5"/><circle cx="1004" cy="1606" r="5.5"/><circle cx="1013" cy="1606" r="5.5"/><circle cx="1022" cy="1606" r="5.5"/><circle cx="1031" cy="1606" r="5.5"/><circle cx="1049" cy="1606" r="5.5"/><circle cx="1058" cy="1606" r="5.5"/><circle cx="1067" cy="1606" r="5.5"/><circle cx="1076" cy="1606" r="5.5"/><circle cx="1094" cy="1606" r="5.5"/><circle cx="1103" cy="1606" r="5.5"/><circle cx="1112" cy="1606" r="5.5"/><circle cx="990" cy="1594" r="5.5"/><circle cx="1000" cy="1588" r="5.5"/><circle cx="1010" cy="1594" r="5.5"/><circle cx="1021" cy="1584" r="5.5"/><circle cx="1048" cy="1594" r="5.5"/><circle cx="1064" cy="1594" r="5.5"/><circle cx="1082" cy="1594" r="5.5"/><circle cx="1096" cy="1588" r="5.5"/><circle cx="1110" cy="1594" r="5.5"/><circle cx="997" cy="1582" r="5.5"/><circle cx="1035" cy="1582" r="5.5"/><circle cx="1058" cy="1582" r="5.5"/><circle cx="1095" cy="1577" r="5.5"/><circle cx="1108" cy="1582" r="5.5"/>
<circle cx="1614" cy="1417" r="5.5"/><circle cx="1614" cy="1433" r="5.5"/><circle cx="1614" cy="1451" r="5.5"/><circle cx="1612" cy="1472" r="5.5"/><circle cx="1614" cy="1497" r="5.5"/><circle cx="1616" cy="1515" r="5.5"/><circle cx="1616" cy="1545" r="5.5"/><circle cx="1622" cy="1564" r="5.5"/><circle cx="1628" cy="1578" r="5.5"/>
<circle cx="1708" cy="1476" r="5.5"/><circle cx="1658" cy="1493" r="5.5"/><circle cx="1723" cy="1516" r="5.5"/><circle cx="1685" cy="1542" r="5.5"/><circle cx="1662" cy="1551" r="5.5"/><circle cx="1673" cy="1553" r="5.5"/><circle cx="1693" cy="1557" r="5.5"/><circle cx="1715" cy="1553" r="5.5"/><circle cx="1728" cy="1557" r="5.5"/><circle cx="1623" cy="1563" r="5.5"/><circle cx="1633" cy="1573" r="5.5"/><circle cx="1658" cy="1573" r="5.5"/><circle cx="1668" cy="1580" r="5.5"/><circle cx="1680" cy="1587" r="5.5"/><circle cx="1700" cy="1575" r="5.5"/><circle cx="1717" cy="1580" r="5.5"/><circle cx="1730" cy="1570" r="5.5"/><circle cx="1628" cy="1590" r="5.5"/><circle cx="1647" cy="1593" r="5.5"/><circle cx="1665" cy="1600" r="5.5"/><circle cx="1687" cy="1600" r="5.5"/><circle cx="1710" cy="1593" r="5.5"/><circle cx="1723" cy="1600" r="5.5"/><circle cx="1617" cy="1602" r="5.5"/><circle cx="1637" cy="1603" r="5.5"/><circle cx="1650" cy="1610" r="5.5"/><circle cx="1700" cy="1610" r="5.5"/>
<circle cx="1615" cy="1612" r="5.5"/><circle cx="1624" cy="1612" r="5.5"/><circle cx="1633" cy="1612" r="5.5"/><circle cx="1642" cy="1612" r="5.5"/><circle cx="1660" cy="1612" r="5.5"/><circle cx="1669" cy="1612" r="5.5"/><circle cx="1678" cy="1612" r="5.5"/><circle cx="1696" cy="1612" r="5.5"/><circle cx="1714" cy="1612" r="5.5"/><circle cx="1723" cy="1612" r="5.5"/><circle cx="1730" cy="1612" r="5.5"/><circle cx="1622" cy="1600" r="5.5"/><circle cx="1640" cy="1600" r="5.5"/><circle cx="1655" cy="1600" r="5.5"/><circle cx="1676" cy="1600" r="5.5"/><circle cx="1698" cy="1600" r="5.5"/><circle cx="1716" cy="1600" r="5.5"/><circle cx="1730" cy="1600" r="5.5"/><circle cx="1640" cy="1588" r="5.5"/><circle cx="1690" cy="1588" r="5.5"/><circle cx="1730" cy="1588" r="5.5"/>
</g>
<ellipse class="ring" stroke="#c8352b" cx="1212" cy="1685" rx="17.5" ry="16"/>
<ellipse class="ring" stroke="#f07f34" cx="1361" cy="1685" rx="17.5" ry="16"/>
<ellipse class="ring" stroke="#2d78aa" cx="1470" cy="1685" rx="17.5" ry="16"/>
<polygon fill="#c6372d" points="1209.5,1124 1209.5,1164 1194.5,1164 1214,1203 1233.5,1164 1218.5,1164 1218.5,1124"/>
<polygon fill="#fd8012" points="1355.5,1071 1355.5,1113 1341,1113 1360,1152 1379,1113 1364.5,1113 1364.5,1071"/>
<polygon fill="#2e78a8" points="1465.5,1460 1465.5,1502 1451,1502 1470,1540 1489,1502 1474.5,1502 1474.5,1460"/>
<text class="pl" x="1364" y="1752" text-anchor="middle" textLength="422" lengthAdjust="spacingAndGlyphs">CHROMOSOMAL POSITION</text>
</g>
</svg>
